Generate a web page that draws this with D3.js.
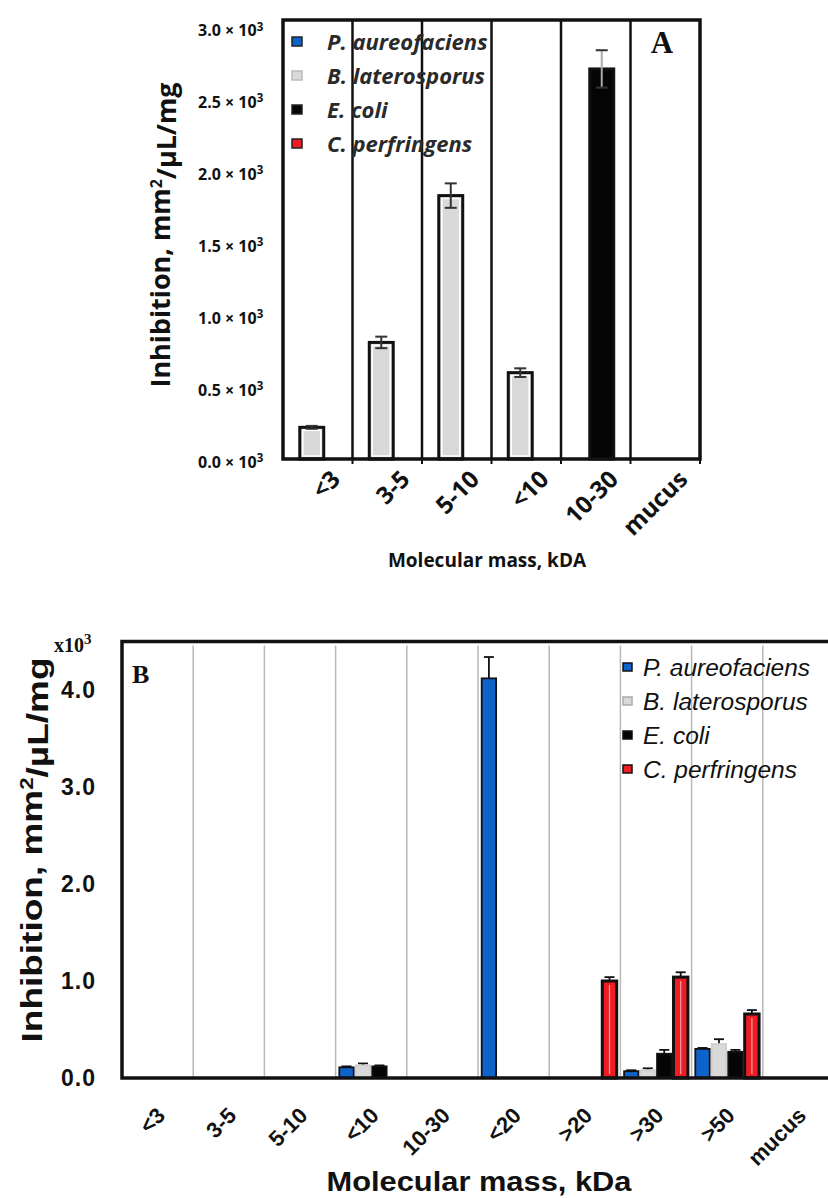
<!DOCTYPE html>
<html lang="en">
<head>
  <meta charset="UTF-8">
  <title>Inhibition by molecular mass</title>
  <script src="https://d3js.org/d3.v7.min.js"></script>
  <style>
    body {
      margin: 0;
      background: #fff;
    }
    svg text { fill: #111; }
  </style>
</head>
<body>
  <svg id="chart" width="828" height="1198"></svg>

  <script>
    // series shared by both panels
    const seriesNames = ["P. aureofaciens", "B. laterosporus", "E. coli", "C. perfringens"];
    const seriesColors = ["#0d63c9", "#d9d9d9", "#050505", "#ee1d23"];

    // panel A (values x10^3)
    const catsA = ["<3", "3-5", "5-10", "<10", "10-30", "mucus"];
    const ticksA = [0, 0.5, 1.0, 1.5, 2.0, 2.5, 3.0];
    const pA = [0, 0, 0, 0, 0, 0];
    const bA = [0.22, 0.81, 1.83, 0.60, 0, 0];
    const eA = [0, 0, 0, 0, 2.71, 0];
    const cA = [0, 0, 0, 0, 0, 0];
    const bAerr = [0.01, 0.04, 0.085, 0.03, 0, 0];
    const eAerr = [0, 0, 0, 0, 0.13, 0];

    // panel B (values x10^3)
    const catsB = ["<3", "3-5", "5-10", "<10", "10-30", "<20", ">20", ">30", ">50", "mucus"];
    const ticksB = [0, 1.0, 2.0, 3.0, 4.0];
    const pB = [0, 0, 0, 0.11, 0, 4.12, 0, 0.07, 0.30, 0];
    const bB = [0, 0, 0, 0.13, 0, 0, 0, 0.08, 0.35, 0];
    const eB = [0, 0, 0, 0.12, 0, 0, 0, 0.25, 0.27, 0];
    const cB = [0, 0, 0, 0, 0, 0, 1.00, 1.04, 0.66, 0];
    const pBerr = [0, 0, 0, 0.01, 0, 0.22, 0, 0.01, 0.01, 0];
    const bBerr = [0, 0, 0, 0.02, 0, 0, 0, 0.02, 0.05, 0];
    const eBerr = [0, 0, 0, 0.01, 0, 0, 0, 0.04, 0.02, 0];
    const cBerr = [0, 0, 0, 0, 0, 0, 0.04, 0.05, 0.04, 0];

    const svg = d3.select("#chart");

    function rows(cats, vals, errs) {
      const out = [];
      cats.forEach((c, i) => {
        seriesNames.forEach((s, k) => {
          out.push({ cat: c, series: s, k: k, value: vals[k][i], err: errs[k][i] });
        });
      });
      return out;
    }

    // ---------------- Panel A ----------------
    const fontA = "'Open Sans', Lato, sans-serif";
    const xA = d3.scaleBand().domain(catsA).range([283, 700]);
    const yA = d3.scaleLinear().domain([0, 3.05]).range([459, 20]);
    const subA = d3.scaleBand().domain(seriesNames).range([0, xA.bandwidth()]).paddingOuter(0.9);
    const barWA = subA.bandwidth() * 2;

    const gA = svg.append("g");

    // dividers
    gA.selectAll(".divA")
      .data(catsA.slice(1))
      .enter()
      .append("line")
      .attr("x1", d => xA(d)).attr("x2", d => xA(d))
      .attr("y1", yA.range()[1]).attr("y2", yA(0))
      .attr("stroke", "#111").attr("stroke-width", 2.5);

    const dataA = rows(catsA, [pA, bA, eA, cA], [pA.map(() => 0), bAerr, eAerr, cA.map(() => 0)])
      .filter(d => d.value > 0);

    const barA = gA.selectAll(".barA")
      .data(dataA)
      .enter()
      .append("g");

    barA.append("rect")
      .attr("x", d => xA(d.cat) + subA(d.series) + subA.bandwidth() / 2 - barWA / 2)
      .attr("y", d => yA(d.value))
      .attr("width", barWA)
      .attr("height", d => yA(0) - yA(d.value))
      .attr("fill", d => seriesColors[d.k])
      .attr("stroke", "#111")
      .attr("stroke-width", 3);

    barA.filter(d => d.k === 1)
      .append("rect")
      .attr("x", d => xA(d.cat) + subA(d.series) + subA.bandwidth() / 2 - barWA / 2 + 3)
      .attr("y", d => yA(d.value) + 3)
      .attr("width", barWA - 6)
      .attr("height", d => Math.max(0, yA(0) - yA(d.value) - 6))
      .attr("fill", "none")
      .attr("stroke", "#fff")
      .attr("stroke-width", 1.5);

    // error bars A
    const errA = barA.append("g")
      .attr("stroke", d => d.k === 2 ? "#aaa" : "#333")
      .attr("stroke-width", 2);
    errA.append("line")
      .attr("x1", d => xA(d.cat) + subA(d.series) + subA.bandwidth() / 2)
      .attr("x2", d => xA(d.cat) + subA(d.series) + subA.bandwidth() / 2)
      .attr("y1", d => yA(d.value - d.err))
      .attr("y2", d => yA(d.value + d.err));
    [1, -1].forEach(sign => {
      errA.append("line")
        .attr("x1", d => xA(d.cat) + subA(d.series) + subA.bandwidth() / 2 - 6)
        .attr("x2", d => xA(d.cat) + subA(d.series) + subA.bandwidth() / 2 + 6)
        .attr("y1", d => yA(d.value + sign * d.err))
        .attr("y2", d => yA(d.value + sign * d.err));
    });
    errA.filter(d => d.k === 2).selectAll("line").filter((d, i) => i > 0)
      .attr("stroke", "#333");

    // frame
    gA.append("rect")
      .attr("x", xA.range()[0]).attr("y", yA.range()[1])
      .attr("width", xA.range()[1] - xA.range()[0])
      .attr("height", yA(0) - yA.range()[1])
      .attr("fill", "none").attr("stroke", "#111").attr("stroke-width", 3.5);

    // y axis A
    const axA = gA.append("g")
      .attr("transform", `translate(${xA.range()[0]},0)`)
      .call(d3.axisLeft(yA).tickValues(ticksA).tickSize(0).tickPadding(11)
        .tickFormat(d => d.toFixed(1) + " × 10"));
    axA.select(".domain").remove();
    axA.selectAll("text")
      .style("font-family", fontA).style("font-weight", "700").style("font-size", "16px")
      .attr("dx", "-0.55em")
      .append("tspan").attr("dy", "-0.45em").style("font-size", "11.5px").text("3");
    axA.selectAll(".tick text").attr("dy", "0.5em");

    // x labels A
    gA.selectAll(".xlabA")
      .data(catsA)
      .enter()
      .append("text")
      .attr("transform", d => `translate(${xA(d) + xA.bandwidth() / 2 + 12},${yA(0) + 10}) rotate(-45)`)
      .attr("text-anchor", "end")
      .attr("dy", "0.7em")
      .style("font-family", fontA).style("font-weight", "700").style("font-size", "24px")
      .text(d => d);

    // small ticks under axis A
    gA.selectAll(".tickA")
      .data(catsA)
      .enter()
      .append("line")
      .attr("x1", d => xA(d) + xA.bandwidth()).attr("x2", d => xA(d) + xA.bandwidth())
      .attr("y1", yA(0)).attr("y2", yA(0) + 5)
      .attr("stroke", "#111").attr("stroke-width", 2);

    // titles A
    gA.append("text")
      .attr("transform", `translate(170,235) rotate(-90)`)
      .attr("text-anchor", "middle")
      .attr("textLength", 305).attr("lengthAdjust", "spacingAndGlyphs")
      .style("font-family", fontA).style("font-weight", "700").style("font-size", "27px")
      .text("Inhibition, mm")
      .call(t => {
        t.append("tspan").attr("dy", "-0.5em").style("font-size", "16px").text("2");
        t.append("tspan").attr("dy", "0.5em").text("/µL/mg");
      });

    gA.append("text")
      .attr("x", 487).attr("y", 567)
      .attr("text-anchor", "middle")
      .style("font-family", fontA).style("font-weight", "700").style("font-size", "19px")
      .text("Molecular mass, kDA");

    gA.append("text")
      .attr("x", 662).attr("y", 53)
      .attr("text-anchor", "middle")
      .style("font-family", "'Liberation Serif', serif").style("font-weight", "700").style("font-size", "31px")
      .text("A");

    // legend A
    const legA = gA.selectAll(".legA")
      .data(seriesNames)
      .enter()
      .append("g")
      .attr("transform", (d, i) => `translate(292,${42 + i * 34})`);
    legA.append("rect")
      .attr("x", 0).attr("y", -5).attr("width", 10).attr("height", 9)
      .attr("fill", (d, i) => seriesColors[i])
      .attr("stroke", (d, i) => i === 1 ? "#bbb" : "#222").attr("stroke-width", 1.5);
    legA.append("text")
      .attr("x", 35).attr("dy", "0.35em")
      .style("font-family", fontA).style("font-weight", "700").style("font-style", "italic")
      .style("font-size", "22px").style("fill", "#2a2a2a")
      .text(d => d);

    // ---------------- Panel B ----------------
    const fontB = "'Liberation Sans', Arial, sans-serif";
    const xB = d3.scaleBand().domain(catsB).range([122, 834]);
    const yB = d3.scaleLinear().domain([0, 4.5]).range([1078, 641.5]);
    const subB = d3.scaleBand().domain(seriesNames).range([0, xB.bandwidth()])
      .paddingInner(0.125).paddingOuter(0.225);

    const gB = svg.append("g");

    gB.selectAll(".gridB")
      .data(catsB.slice(1))
      .enter()
      .append("line")
      .attr("x1", d => xB(d)).attr("x2", d => xB(d))
      .attr("y1", yB.range()[1] + 4).attr("y2", yB(0))
      .attr("stroke", "#b8b8b8").attr("stroke-width", 1.5);

    const dataB = rows(catsB, [pB, bB, eB, cB], [pBerr, bBerr, eBerr, cBerr])
      .filter(d => d.value > 0);

    const barB = gB.selectAll(".barB")
      .data(dataB)
      .enter()
      .append("g");

    // error bars B (drawn behind the bar)
    const errB = barB.append("g").attr("stroke", "#111").attr("stroke-width", 1.8);
    errB.append("line")
      .attr("x1", d => xB(d.cat) + subB(d.series) + subB.bandwidth() / 2)
      .attr("x2", d => xB(d.cat) + subB(d.series) + subB.bandwidth() / 2)
      .attr("y1", d => yB(d.value))
      .attr("y2", d => yB(d.value + d.err));
    errB.append("line")
      .attr("x1", d => xB(d.cat) + subB(d.series) + subB.bandwidth() / 2 - 5)
      .attr("x2", d => xB(d.cat) + subB(d.series) + subB.bandwidth() / 2 + 5)
      .attr("y1", d => yB(d.value + d.err))
      .attr("y2", d => yB(d.value + d.err));

    barB.append("rect")
      .attr("x", d => xB(d.cat) + subB(d.series))
      .attr("y", d => yB(d.value))
      .attr("width", subB.bandwidth())
      .attr("height", d => yB(0) - yB(d.value))
      .attr("fill", d => seriesColors[d.k])
      .attr("stroke", d => d.k === 1 ? "#cfcfcf" : "#111")
      .attr("stroke-width", d => d.k === 3 ? 3 : 1.8);

    barB.filter(d => d.k === 3)
      .append("line")
      .attr("x1", d => xB(d.cat) + subB(d.series) + subB.bandwidth() / 2)
      .attr("x2", d => xB(d.cat) + subB(d.series) + subB.bandwidth() / 2)
      .attr("y1", d => yB(d.value) + 4)
      .attr("y2", yB(0) - 4)
      .attr("stroke", "#f7a0a4").attr("stroke-width", 1.2);

    // frame B (left, top, bottom)
    gB.append("path")
      .attr("d", d3.line()([[xB.range()[1], yB.range()[1]], [xB.range()[0], yB.range()[1]],
        [xB.range()[0], yB(0)], [xB.range()[1], yB(0)]]))
      .attr("fill", "none").attr("stroke", "#111").attr("stroke-width", 3.5);

    const axB = gB.append("g")
      .attr("transform", `translate(${xB.range()[0]},0)`)
      .call(d3.axisLeft(yB).tickValues(ticksB).tickSize(0).tickPadding(26).tickFormat(d3.format(".1f")));
    axB.select(".domain").remove();
    axB.selectAll("text")
      .style("font-family", fontB).style("font-weight", "700").style("font-size", "23px")
      .style("letter-spacing", "1px");

    gB.append("text")
      .attr("x", 54).attr("y", 652)
      .style("font-family", "'Liberation Serif', serif").style("font-weight", "700").style("font-size", "20px")
      .text("x10")
      .append("tspan").attr("dy", "-0.55em").style("font-size", "15px").text("3");

    gB.append("text")
      .attr("x", 132).attr("y", 683)
      .style("font-family", "'Liberation Serif', serif").style("font-weight", "700").style("font-size", "26px")
      .text("B");

    gB.selectAll(".xlabB")
      .data(catsB)
      .enter()
      .append("text")
      .attr("transform", d => `translate(${xB(d) + xB.bandwidth() / 2 - 2},${yB(0) + 28}) rotate(-45)`)
      .attr("text-anchor", "end")
      .attr("dy", "0.7em")
      .style("font-family", fontB).style("font-weight", "700").style("font-size", "22px")
      .text(d => d);

    gB.append("text")
      .attr("transform", `translate(42,850) rotate(-90)`)
      .attr("text-anchor", "middle")
      .attr("textLength", 385).attr("lengthAdjust", "spacingAndGlyphs")
      .style("font-family", fontB).style("font-weight", "700").style("font-size", "30px")
      .text("Inhibition, mm")
      .call(t => {
        t.append("tspan").attr("dy", "-0.5em").style("font-size", "18px").text("2");
        t.append("tspan").attr("dy", "0.5em").text("/µL/mg");
      });

    gB.append("text")
      .attr("x", 479).attr("y", 1191)
      .attr("text-anchor", "middle")
      .attr("textLength", 305).attr("lengthAdjust", "spacingAndGlyphs")
      .style("font-family", fontB).style("font-weight", "700").style("font-size", "28px")
      .text("Molecular mass, kDa");

    const legB = gB.selectAll(".legB")
      .data(seriesNames)
      .enter()
      .append("g")
      .attr("transform", (d, i) => `translate(623,${667 + i * 34})`);
    legB.append("rect")
      .attr("x", 0).attr("y", -4).attr("width", 9).attr("height", 8)
      .attr("fill", (d, i) => seriesColors[i])
      .attr("stroke", (d, i) => i === 1 ? "#aaa" : "#111").attr("stroke-width", 1.5);
    legB.append("text")
      .attr("x", 20).attr("dy", "0.35em")
      .style("font-family", fontB).style("font-style", "italic").style("font-size", "24.5px")
      .text(d => d);
  </script>
</body>
</html>
